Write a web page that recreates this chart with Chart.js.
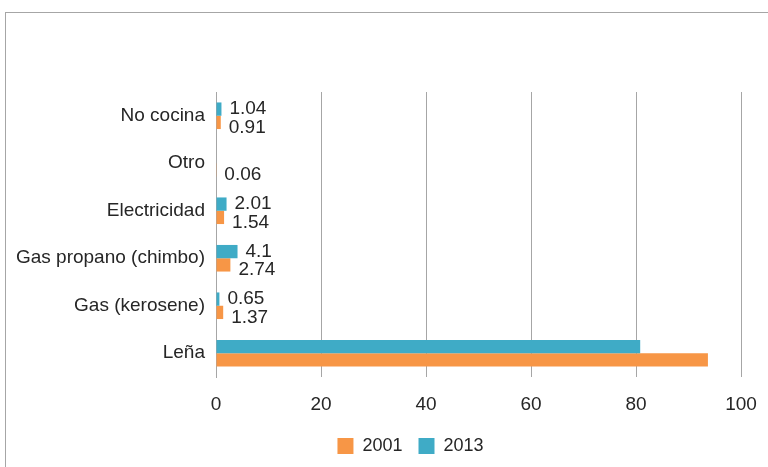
<!DOCTYPE html>
<html>
<head>
<meta charset="utf-8">
<script src="https://cdn.jsdelivr.net/npm/chart.js@4"></script>
<style>
  html, body { margin: 0; padding: 0; background: #fff; }
  #wrap { position: relative; width: 768px; height: 467px; overflow: hidden; }
  #frame { position: absolute; left: 5px; top: 12px; width: 900px; height: 600px; border: 1px solid #a6a6a6; }
  canvas { position: absolute; left: 0; top: 0; }
</style>
</head>
<body>
<div id="wrap">
  <div id="frame"></div>
  <canvas id="chart" width="768" height="467"></canvas>
</div>
<script>
// categories, top to bottom
const categories = ['No cocina', 'Otro', 'Electricidad', 'Gas propano (chimbo)', 'Gas (kerosene)', 'Leña'];
// percentages
const values2013 = [1.04, null, 2.01, 4.1, 0.65, 80.8];
const values2001 = [0.91, 0.06, 1.54, 2.74, 1.37, 93.7];
// Leña has no value label in the source
const showLabel = [true, true, true, true, true, false];
const xTicks = [0, 20, 40, 60, 80, 100];

const FONT = 'Liberation Sans, Arial, sans-serif';
const TEXT = '#262626';

// draws the value next to the end of each bar
const valueLabels = {
    id: 'valueLabels',
    afterDatasetsDraw(chart) {
        const ctx = chart.ctx;
        ctx.save();
        ctx.font = '19px ' + FONT;
        ctx.fillStyle = TEXT;
        ctx.textAlign = 'left';
        ctx.textBaseline = 'middle';
        chart.data.datasets.forEach((ds, di) => {
            const meta = chart.getDatasetMeta(di);
            meta.data.forEach((bar, i) => {
                const v = ds.data[i];
                if (v === null || !showLabel[i]) return;
                const dy = di === 0 ? 0 : 5;
                ctx.fillText(String(v), bar.x + 8, bar.y + dy);
            });
        });
        ctx.restore();
    }
};

// the source legend sits a bit right of the canvas centre
const legendShift = {
    id: 'legendShift',
    afterLayout(chart) {
        chart.legend.left += 40;
        chart.legend.right += 40;
    }
};

new Chart(document.getElementById('chart'), {
    type: 'bar',
    data: {
        labels: categories,
        datasets: [
            { label: '2013', data: values2013, backgroundColor: '#3FABC6' },
            { label: '2001', data: values2001, backgroundColor: '#F79646' }
        ]
    },
    options: {
        indexAxis: 'y',
        responsive: false,
        animation: false,
        devicePixelRatio: 1,
        categoryPercentage: 0.56,
        barPercentage: 1,
        layout: { padding: { left: 0, right: 27, top: 92, bottom: 2 } },
        plugins: {
            legend: {
                position: 'bottom',
                reverse: true,
                labels: {
                    boxWidth: 16,
                    boxHeight: 16,
                    padding: 16,
                    color: TEXT,
                    font: { family: FONT, size: 18 }
                }
            },
            tooltip: { enabled: false }
        },
        scales: {
            x: {
                min: 0,
                max: 100,
                afterBuildTicks(scale) { scale.ticks = xTicks.map(v => ({ value: v })); },
                afterFit(scale) {
                    scale.height = 44;
                    scale.paddingLeft = 0;
                    scale.paddingRight = 0;
                },
                grid: { color: '#a6a6a6', drawTicks: false },
                border: { display: false },
                ticks: { color: TEXT, padding: 16, font: { family: FONT, size: 19 } }
            },
            y: {
                afterFit(scale) { scale.width = 216; },
                grid: { display: false, drawTicks: false },
                border: { display: true, color: '#a6a6a6' },
                ticks: { color: TEXT, padding: 11, font: { family: FONT, size: 19 } }
            }
        }
    },
    plugins: [valueLabels, legendShift]
});
</script>
</body>
</html>
